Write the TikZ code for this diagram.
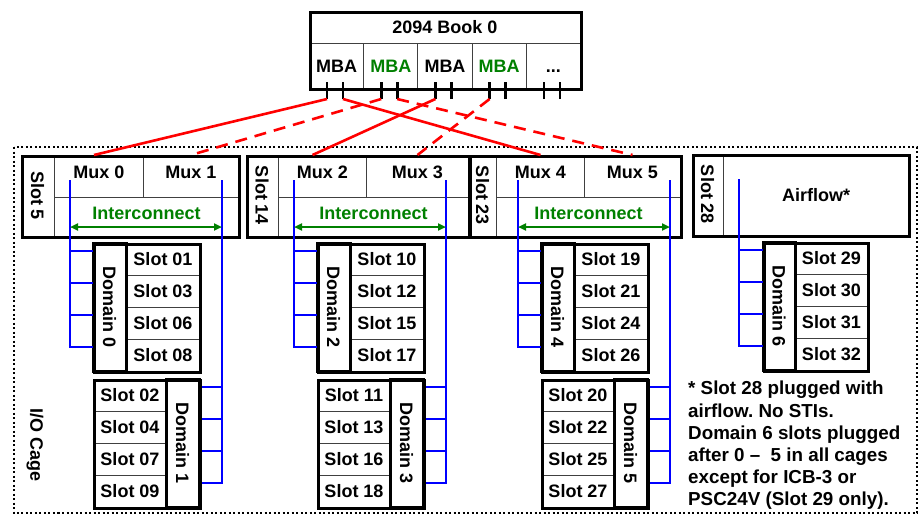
\documentclass[tikz,border=0pt]{standalone}
\usepackage{fontspec}
\setmainfont{Liberation Sans}
\usetikzlibrary{arrows.meta,positioning,calc}
\frenchspacing

\begin{document}
\begin{tikzpicture}[x=1pt,y=-1pt,>={Triangle[length=8pt,width=7pt]},font=\fontsize{18}{21}\selectfont\bfseries]
\tikzstyle{cell}=[draw=black!75,line width=1pt,inner sep=0pt,anchor=north west]
\tikzstyle{frame}=[draw,line width=3pt,inner sep=0pt,anchor=north west]
\tikzstyle{bus}=[blue,line width=2pt]
\tikzstyle{sti}=[red,line width=2.6pt]
\tikzstyle{tick}=[line width=2.6pt]
\tikzstyle{icarrow}=[<->,green!50!black,line width=2pt]
\useasboundingbox (0,0) rectangle (919,515);

% I/O cage
\draw[line width=2pt,dash pattern=on 2pt off 2.5pt] (14,147) rectangle (917,513);
\node[rotate=-90] (cage) at (35,445) {I/O Cage};

% book and its MBAs
\node[cell,minimum width=271pt,minimum height=32pt] (book) at (309,11) {2094 Book 0};
\foreach \i/\c/\t in {0/black/MBA,1/green!50!black/MBA,2/black/MBA,3/green!50!black/MBA,4/black/{\vphantom{M}.{}.{}.}}{
  \node[cell,minimum width=54.2pt,minimum height=45pt,text=\c] (mba\i) at (309+54.2*\i,43) {\t};
  \coordinate (p\i-a) at ($(mba\i.south west)+(18,10)$);
  \coordinate (p\i-b) at ($(mba\i.south west)+(34,10)$);
  \draw[tick] (p\i-a) -- ++(0,-17) (p\i-b) -- ++(0,-17);
}
\node[frame,minimum width=271pt,minimum height=77pt] (bookframe) at (309,11) {};

% mux cards
\foreach \un/\xa/\bw/\sw/\mw/\sn/\ma/\mb in {0/21/217/33/89/5/0/1,1/246/222/32/88/14/2/3,2/469/211/27/88/23/4/5}{
  \node[cell,rotate=-90,anchor=center,minimum width=81pt,minimum height=\sw pt] (slot\sn) at (\xa+\sw/2,195.5) {Slot \sn};
  \node[cell,minimum width=\mw pt,minimum height=42pt] (mux\ma) at (\xa+\sw,155) {};
  \node[cell,minimum width={(\bw-\sw-\mw)*1pt},minimum height=42pt] (mux\mb) at (\xa+\sw+\mw,155) {};
  \node[cell,minimum width={(\bw-\sw)*1pt},minimum height=39pt] (ic\un) at (\xa+\sw,197) {};
  \node[yshift=4pt] (mux\ma-t) at (mux\ma.center) {Mux \ma};
  \node[yshift=4pt] (mux\mb-t) at (mux\mb.center) {Mux \mb};
  \node[yshift=3.5pt,text=green!50!black] (ic\un-t) at (ic\un.center) {Interconnect};
  \node[frame,minimum width=\bw pt,minimum height=81pt] (unit\un) at (\xa,155) {};
}

% domains under each card
\foreach \un/\ua/\ub/\la/\lb in {0/0/1/{01,03,06,08}/{02,04,07,09},1/2/3/{10,12,15,17}/{11,13,16,18},2/4/5/{19,21,24,26}/{20,22,25,27}}{
  \foreach \s [count=\q from 0] in \la
    \node[cell,minimum width=73pt,minimum height=32pt] (s\s) at (126+224*\un,243+32*\q) {Slot \s};
  \node[frame,rotate=-90,anchor=center,minimum width=128pt,minimum height=33pt] (dom\ua) at (109.5+224*\un,307) {Domain \ua};
  \node[frame,minimum width=106pt,minimum height=128pt] (blk\ua) at (93+224*\un,243) {};
  \foreach \s [count=\q from 0] in \lb
    \node[cell,minimum width=73pt,minimum height=32pt] (s\s) at (93+224*\un,379+32*\q) {Slot \s};
  \node[frame,rotate=-90,anchor=center,minimum width=128pt,minimum height=33pt] (dom\ub) at (182.5+224*\un,443) {Domain \ub};
  \node[frame,minimum width=106pt,minimum height=128pt] (blk\ub) at (93+224*\un,379) {};
  % buses from the muxes
  \coordinate (lb\un) at (70+224*\un,180);
  \coordinate (rb\un) at (222+224*\un,180);
  \foreach \q in {0,...,3}{
    \draw[bus] (lb\un) |- ($(blk\ua.north west)+(0,8+32*\q)$);
    \draw[bus] (rb\un) |- ($(blk\ub.north east)+(0,8+32*\q)$);
  }
  \draw[icarrow] ($(lb\un)+(0,47)$) -- ($(rb\un)+(0,47)$);
}

% airflow card and domain 6
\node[cell,rotate=-90,anchor=center,minimum width=81pt,minimum height=31pt] (slot28) at (707.5,194.5) {Slot 28};
\node[cell,minimum width=185pt,minimum height=81pt] (air) at (723,154) {Airflow*};
\node[frame,minimum width=216pt,minimum height=81pt] (unit3) at (692,154) {};
\foreach \s [count=\q from 0] in {29,30,31,32}
  \node[cell,minimum width=72pt,minimum height=32pt] (s\s) at (795,242+32*\q) {Slot \s};
\node[frame,rotate=-90,anchor=center,minimum width=128pt,minimum height=32pt] (dom6) at (779,306) {Domain 6};
\node[frame,minimum width=104pt,minimum height=128pt] (blk6) at (763,242) {};
\coordinate (lb3) at (739,179);
\foreach \q in {0,...,3} \draw[bus] (lb3) |- ($(blk6.north west)+(0,8+32*\q)$);

% STI cables
\draw[sti] (p0-a) -- ([xshift=-5pt]mux0.north);
\draw[sti] (p0-b) -- (mux4.north);
\draw[sti] (p2-a) -- ([xshift=-10pt]mux2.north);
\draw[sti,dash pattern=on 12pt off 8pt] (p1-a) -- (mux1.north);
\draw[sti,dash pattern=on 12pt off 8pt] (p1-b) -- (mux5.north);
\draw[sti,dash pattern=on 12pt off 8pt] (p3-a) -- (mux3.north);

\node[anchor=north west,align=left,inner sep=0pt,font=\fontsize{18.8}{22.2}\selectfont\bfseries] (note) at (688,381) {* Slot 28 plugged with\\airflow. No STIs.\\Domain 6 slots plugged\\after 0 --\ \ 5 in all cages\\except for ICB-3 or\\PSC24V (Slot 29 only).};
\end{tikzpicture}
\end{document}
